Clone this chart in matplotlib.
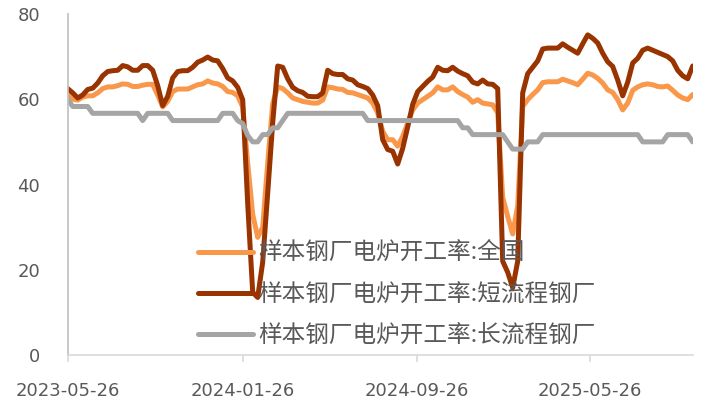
import numpy as np
import pandas as pd
import matplotlib
matplotlib.use("Agg")
from matplotlib import pyplot as plt
import matplotlib.dates as mdates

plt.rcParams['font.family'] = ['DejaVu Sans']

start_date = "2023-05-26"

national = [61.0, 60.0, 59.8, 60.5, 60.8, 60.8, 61.5, 62.5, 62.9, 62.9,
            63.2, 63.6, 63.5, 63.0, 63.0, 63.3, 63.5, 63.5, 61.0, 58.2,
            59.5, 61.8, 62.4, 62.4, 62.4, 62.9, 63.4, 63.6, 64.3, 63.8,
            63.6, 63.0, 61.8, 61.6, 60.8, 58.2, 45.0, 33.0, 27.6, 30.0,
            45.0, 59.0, 62.9, 62.5, 61.5, 60.3, 59.9, 59.5, 59.3, 59.1,
            59.1, 59.8, 62.9, 62.7, 62.4, 62.3, 61.6, 61.5, 61.1, 60.7,
            60.3, 59.1, 56.8, 52.5, 50.5, 50.5, 49.0, 51.3, 54.4, 57.5,
            59.1, 59.9, 60.7, 61.5, 62.9, 62.2, 62.2, 62.9, 61.8, 61.1,
            60.5, 59.3, 59.9, 59.1, 58.9, 58.7, 56.8, 37.0, 32.5, 28.4,
            35.0, 58.3, 59.9, 61.1, 62.2, 63.9, 64.1, 64.1, 64.1, 64.7,
            64.3, 63.9, 63.4, 64.7, 66.1, 65.7, 64.9, 63.8, 62.2, 61.6,
            59.9, 57.5, 59.1, 62.1, 62.9, 63.4, 63.6, 63.4, 63.0, 62.9,
            63.1, 62.1, 61.0, 60.3, 59.9, 61.1]

short_process = [62.5, 61.5, 60.3, 61.0, 62.3, 62.6, 63.8, 65.5, 66.5, 66.7,
                 66.8, 67.9, 67.6, 66.8, 66.8, 67.9, 67.9, 66.8, 63.2, 58.5,
                 60.7, 65.0, 66.5, 66.7, 66.7, 67.5, 68.7, 69.2, 69.9, 69.2,
                 69.0, 67.2, 65.0, 64.3, 62.8, 59.9, 35.5, 14.7, 13.5, 21.8,
                 38.0, 54.5, 67.8, 67.5, 64.8, 62.8, 62.0, 61.6, 60.7, 60.6,
                 60.6, 61.5, 66.8, 66.0, 65.8, 65.8, 64.8, 64.5, 63.4, 63.0,
                 62.5, 61.0, 58.5, 50.5, 48.2, 47.8, 44.8, 48.5, 53.5, 58.8,
                 61.8, 63.0, 64.2, 65.2, 67.5, 66.8, 66.7, 67.5, 66.6, 66.0,
                 65.5, 64.0, 63.6, 64.5, 63.6, 63.5, 62.5, 22.0, 19.4, 15.8,
                 22.0, 61.5, 66.0, 67.5, 69.0, 71.8, 72.0, 72.0, 72.0, 73.0,
                 72.2, 71.5, 70.8, 73.0, 75.1, 74.3, 73.2, 70.8, 68.8, 67.7,
                 64.5, 60.8, 64.0, 68.5, 69.6, 71.5, 72.0, 71.5, 71.0, 70.5,
                 70.0, 69.0, 66.8, 65.5, 64.8, 67.8]

long_process = [60.0, 58.3, 58.3, 58.3, 58.3, 56.7, 56.7, 56.7, 56.7, 56.7,
                56.7, 56.7, 56.7, 56.7, 56.7, 55.0, 56.7, 56.7, 56.7, 56.7,
                56.7, 55.0, 55.0, 55.0, 55.0, 55.0, 55.0, 55.0, 55.0, 55.0,
                55.0, 56.7, 56.7, 56.7, 55.0, 54.3, 51.5, 50.0, 50.0, 51.7,
                51.7, 53.3, 53.3, 55.0, 56.7, 56.7, 56.7, 56.7, 56.7, 56.7,
                56.7, 56.7, 56.7, 56.7, 56.7, 56.7, 56.7, 56.7, 56.7, 56.7,
                55.0, 55.0, 55.0, 55.0, 55.0, 55.0, 55.0, 55.0, 55.0, 55.0,
                55.0, 55.0, 55.0, 55.0, 55.0, 55.0, 55.0, 55.0, 55.0, 53.3,
                53.3, 51.7, 51.7, 51.7, 51.7, 51.7, 51.7, 51.7, 50.0, 48.3,
                48.3, 48.3, 50.0, 50.0, 50.0, 51.7, 51.7, 51.7, 51.7, 51.7,
                51.7, 51.7, 51.7, 51.7, 51.7, 51.7, 51.7, 51.7, 51.7, 51.7,
                51.7, 51.7, 51.7, 51.7, 51.7, 50.0, 50.0, 50.0, 50.0, 50.0,
                51.7, 51.7, 51.7, 51.7, 51.7, 50.0]

labels = ["样本钢厂电炉开工率:全国",
          "样本钢厂电炉开工率:短流程钢厂",
          "样本钢厂电炉开工率:长流程钢厂"]
colors = ["#F9984A", "#993300", "#A5A5A5"]
tick_dates = ["2023-05-26", "2024-01-26", "2024-09-26", "2025-05-26"]

dates = pd.date_range(start_date, periods=len(national), freq="7D")

fig = plt.figure(figsize=(7.05, 4.03), dpi=100)
ax = fig.add_axes([67.7 / 705, 48 / 403, 625 / 705, 341 / 403])

for values, label, color in zip([national, short_process, long_process], labels, colors):
    ax.plot(dates, values, color=color, lw=3.6, label=label,
            solid_joinstyle="round", solid_capstyle="round")

ax.set_ylim(0, 80)
ax.set_yticks([0, 20, 40, 60, 80])
ax.set_xlim(dates[0], dates[-1])
ax.set_xticks(pd.to_datetime(tick_dates))
ax.xaxis.set_major_formatter(mdates.DateFormatter("%Y-%m-%d"))

for side in ["top", "right"]:
    ax.spines[side].set_visible(False)
ax.spines["left"].set_color("#BFBFBF")
ax.spines["bottom"].set_color("#D9D9D9")
ax.spines["left"].set_linewidth(1.2)
ax.spines["bottom"].set_linewidth(1.2)

ax.tick_params(axis="y", length=0, pad=20, labelsize=13, labelcolor="#595959")
ax.tick_params(axis="x", length=5, width=1.2, color="#D9D9D9", pad=14.5,
               labelsize=13, labelcolor="#595959")

leg = ax.legend(loc="upper left", bbox_to_anchor=(198 / 705, (403 - 242) / 403),
                bbox_transform=fig.transFigure, frameon=False,
                prop={"family": ["Noto Sans CJK SC", "DejaVu Sans"], "size": 17},
                handlelength=2.35, handletextpad=0.2, labelspacing=0.77,
                borderpad=0, borderaxespad=0)
for text in leg.get_texts():
    text.set_color("#595959")

fig.savefig("out.png", dpi=100)
